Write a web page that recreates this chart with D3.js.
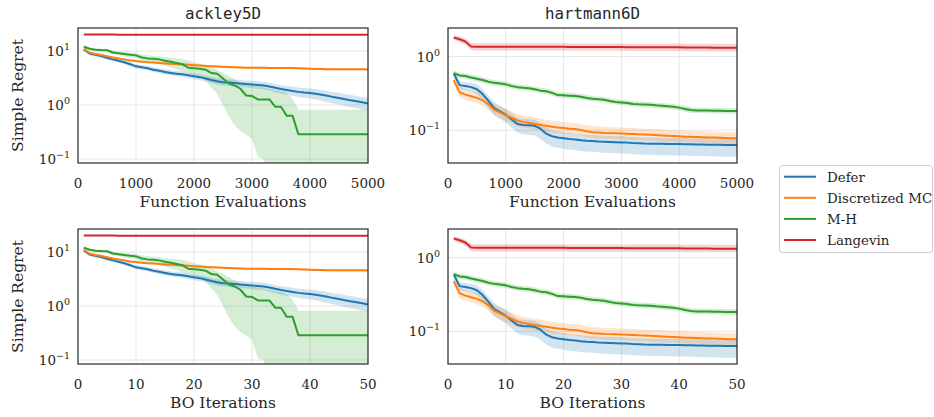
<!DOCTYPE html>
<html>
<head>
<meta charset="utf-8">
<title>Simple Regret</title>
<script src="https://d3js.org/d3.v7.min.js"></script>
<style>
  body { margin: 0; background: #fff; }
  text { fill: #262626; }
  .tick-label { font-family: "DejaVu Serif", serif; font-size: 13.5px; }
  .axis-label { font-family: "DejaVu Serif", serif; font-size: 15.5px; }
  .title { font-family: "DejaVu Sans Mono", monospace; font-size: 15.8px; text-anchor: middle; }
  .legend text { font-family: "DejaVu Serif", serif; font-size: 13.4px; }
</style>
</head>
<body>
<script>
// BO iterations; every iteration uses 100 function evaluations
const iterations = d3.range(1, 51);
const evalsPerIter = 100;
const methods = ["Defer", "Discretized MC", "M-H", "Langevin"];
const colors = ["#1f77b4", "#ff7f0e", "#2ca02c", "#d62728"];
const evalTicks = [0, 1000, 2000, 3000, 4000, 5000];
const iterTicks = [0, 10, 20, 30, 40, 50];

// ackley5D
const ackDeferMean = [10.7,9.0,8.5,8.1,7.5,7.0,6.6,6.2,5.7,5.2,5.0,4.8,4.5,4.3,4.1,3.9,3.8,3.7,3.55,3.4,3.28,3.1,2.9,2.75,2.65,2.6,2.55,2.5,2.45,2.4,2.35,2.3,2.2,2.08,1.98,1.9,1.82,1.75,1.7,1.67,1.62,1.55,1.48,1.4,1.35,1.28,1.22,1.17,1.12,1.07];
const ackDeferHi = [11.5,9.7,9.2,8.8,8.1,7.6,7.2,6.8,6.2,5.7,5.5,5.3,5.0,4.8,4.6,4.4,4.3,4.2,4.0,3.85,3.72,3.52,3.3,3.15,3.05,3.0,2.95,2.9,2.85,2.8,2.75,2.68,2.57,2.42,2.32,2.26,2.18,2.1,2.05,2.02,1.96,1.9,1.82,1.73,1.68,1.6,1.53,1.47,1.41,1.35];
const ackDeferLo = [9.9,8.3,7.8,7.5,6.9,6.5,6.1,5.7,5.2,4.8,4.6,4.4,4.1,3.9,3.7,3.5,3.4,3.3,3.15,3.0,2.9,2.73,2.55,2.4,2.3,2.25,2.2,2.15,2.1,2.05,2.0,1.95,1.86,1.72,1.62,1.55,1.48,1.41,1.36,1.32,1.27,1.2,1.14,1.07,1.02,0.96,0.91,0.87,0.82,0.78];
const ackMCMean = [10.9,9.3,8.8,8.4,8.0,7.6,7.3,7.0,6.7,6.5,6.35,6.2,6.1,6.0,5.9,5.8,5.72,5.65,5.55,5.45,5.38,5.3,5.22,5.15,5.1,5.05,5.0,4.95,4.9,4.9,4.89,4.88,4.87,4.86,4.85,4.84,4.82,4.78,4.74,4.7,4.66,4.63,4.61,4.6,4.59,4.58,4.58,4.57,4.57,4.56];
const ackMCHi = [11.4,9.7,9.2,8.8,8.35,7.95,7.6,7.3,7.0,6.8,6.6,6.45,6.35,6.25,6.15,6.05,5.97,5.9,5.8,5.7,5.62,5.54,5.45,5.38,5.33,5.28,5.23,5.18,5.12,5.12,5.11,5.1,5.09,5.08,5.07,5.06,5.04,5.0,4.96,4.92,4.88,4.85,4.83,4.82,4.81,4.8,4.8,4.79,4.79,4.78];
const ackMCLo = [10.4,8.9,8.4,8.0,7.65,7.25,7.0,6.7,6.4,6.2,6.1,5.95,5.85,5.75,5.65,5.55,5.47,5.4,5.3,5.2,5.14,5.06,4.99,4.92,4.87,4.82,4.77,4.72,4.68,4.68,4.67,4.66,4.65,4.64,4.63,4.62,4.6,4.56,4.52,4.48,4.44,4.41,4.39,4.38,4.37,4.36,4.36,4.35,4.35,4.34];
const ackMHMean = [12.0,11.0,10.6,10.4,10.3,9.4,9.1,8.8,8.5,8.3,7.6,7.3,7.2,7.0,6.6,6.3,6.0,5.7,4.9,4.8,4.7,4.5,3.9,3.8,3.1,2.5,2.3,2.0,1.5,1.47,1.27,1.27,1.27,0.93,0.93,0.63,0.63,0.286,0.286,0.286,0.286,0.286,0.286,0.286,0.286,0.286,0.286,0.286,0.286,0.286];
const ackMHHi = [12.6,11.6,11.2,11.0,10.9,10.1,9.8,9.6,9.4,9.2,8.6,8.3,8.2,8.0,7.7,7.5,7.3,7.2,6.6,6.2,5.8,5.5,5.0,4.4,3.9,3.4,3.0,2.6,2.4,2.3,2.2,2.1,2.0,1.9,1.8,1.65,1.3,0.82,0.82,0.82,0.82,0.82,0.82,0.82,0.82,0.82,0.82,0.82,0.82,0.82];
const ackMHLo = [11.4,10.4,10.0,9.8,9.7,8.7,8.4,8.0,7.6,7.4,6.6,6.3,6.2,5.9,5.4,5.0,4.6,4.2,3.9,3.6,3.3,2.8,2.1,1.6,1.0,0.62,0.42,0.33,0.28,0.24,0.11,0.10,0.001,0.001,0.001,0.001,0.001,0.001,0.001,0.001,0.001,0.001,0.001,0.001,0.001,0.001,0.001,0.001,0.001,0.001];
const ackLangMean = [20.3,20.3,20.2,20.2,20.2,20.2,20.1,20.1,20.1,20.1,20.0,20.0,20.0,20.0,20.0,20.0,20.0,20.0,20.0,20.0,20.0,20.0,20.0,20.0,20.0,20.0,20.0,20.0,20.0,20.0,19.95,19.95,19.95,19.95,19.95,19.95,19.95,19.95,19.95,19.95,19.9,19.9,19.9,19.9,19.9,19.9,19.9,19.9,19.9,19.9];
const ackLangHi = [20.6,20.6,20.5,20.5,20.5,20.5,20.4,20.4,20.4,20.4,20.3,20.3,20.3,20.3,20.3,20.3,20.3,20.3,20.3,20.3,20.3,20.3,20.3,20.3,20.3,20.3,20.3,20.3,20.3,20.3,20.25,20.25,20.25,20.25,20.25,20.25,20.25,20.25,20.25,20.25,20.2,20.2,20.2,20.2,20.2,20.2,20.2,20.2,20.2,20.2];
const ackLangLo = [20.0,20.0,19.9,19.9,19.9,19.9,19.8,19.8,19.8,19.8,19.7,19.7,19.7,19.7,19.7,19.7,19.7,19.7,19.7,19.7,19.7,19.7,19.7,19.7,19.7,19.7,19.7,19.7,19.7,19.7,19.65,19.65,19.65,19.65,19.65,19.65,19.65,19.65,19.65,19.65,19.6,19.6,19.6,19.6,19.6,19.6,19.6,19.6,19.6,19.6];

// hartmann6D
const hartDeferMean = [.59,.41,.40,.385,.36,.31,.25,.20,.18,.163,.14,.122,.118,.117,.115,.105,.09,.083,.080,.078,.076,.075,.073,.072,.0713,.0705,.070,.0695,.069,.0685,.068,.067,.0665,.066,.0658,.0656,.0654,.0652,.065,.065,.0648,.0645,.0643,.064,.0638,.0636,.0634,.0632,.063,.0629];
const hartDeferHi = [.64,.46,.45,.44,.42,.36,.295,.24,.215,.197,.17,.148,.143,.141,.139,.127,.109,.1,.097,.094,.092,.09,.088,.087,.086,.085,.0845,.084,.0835,.083,.082,.081,.0805,.08,.0795,.0793,.079,.0788,.0786,.0786,.0784,.078,.0778,.0774,.0772,.077,.0767,.0765,.0762,.0761];
const hartDeferLo = [.54,.36,.35,.335,.31,.255,.2,.16,.142,.128,.108,.093,.088,.087,.085,.077,.066,.06,.058,.056,.0545,.0537,.0522,.0515,.051,.0502,.0497,.0493,.0489,.0485,.0481,.0474,.047,.0466,.0464,.0462,.046,.0458,.0456,.0455,.0453,.045,.0448,.0446,.0444,.0442,.044,.0438,.0436,.0435];
const hartMCMean = [.48,.33,.305,.29,.275,.255,.225,.19,.175,.16,.148,.136,.13,.126,.122,.118,.115,.112,.109,.107,.105,.104,.101,.097,.094,.093,.092,.0915,.091,.0905,.09,.089,.088,.0875,.087,.086,.085,.084,.0835,.083,.082,.0815,.081,.0805,.08,.0795,.079,.0785,.078,.0777];
const hartMCHi = [.55,.39,.36,.345,.33,.305,.27,.23,.212,.194,.18,.166,.158,.153,.148,.143,.139,.135,.132,.129,.127,.126,.122,.117,.114,.113,.111,.11,.11,.109,.108,.107,.106,.105,.105,.104,.103,.101,.1,.1,.099,.098,.098,.097,.096,.096,.095,.095,.094,.094];
const hartMCLo = [.42,.28,.26,.245,.232,.215,.19,.16,.147,.134,.124,.114,.109,.106,.102,.099,.096,.094,.091,.09,.088,.087,.085,.081,.079,.078,.077,.077,.076,.076,.075,.074,.074,.073,.073,.072,.071,.07,.07,.069,.069,.068,.068,.067,.067,.066,.066,.066,.065,.065];
const hartMHMean = [.595,.555,.545,.52,.50,.48,.455,.44,.43,.42,.40,.385,.377,.372,.36,.345,.338,.322,.30,.298,.295,.292,.285,.275,.268,.264,.26,.25,.242,.238,.234,.228,.225,.224,.222,.218,.215,.212,.208,.203,.195,.188,.186,.185,.185,.184,.184,.183,.183,.182];
const hartMHHi = [.65,.605,.595,.567,.545,.523,.496,.48,.469,.458,.436,.42,.411,.405,.392,.376,.368,.351,.327,.325,.322,.318,.311,.3,.292,.288,.283,.273,.264,.259,.255,.249,.245,.244,.242,.238,.234,.231,.227,.221,.213,.205,.203,.202,.202,.201,.201,.2,.2,.198];
const hartMHLo = [.547,.511,.501,.478,.46,.442,.419,.405,.396,.386,.368,.354,.347,.342,.331,.317,.311,.296,.276,.274,.271,.269,.262,.253,.247,.243,.239,.23,.223,.219,.215,.21,.207,.206,.204,.201,.198,.195,.191,.187,.179,.173,.171,.17,.17,.169,.169,.168,.168,.167];
const hartLangMean = [1.82,1.72,1.6,1.37,1.36,1.36,1.36,1.36,1.36,1.36,1.355,1.355,1.355,1.355,1.355,1.355,1.355,1.355,1.355,1.355,1.35,1.35,1.35,1.35,1.35,1.35,1.35,1.35,1.35,1.35,1.34,1.34,1.34,1.34,1.34,1.34,1.34,1.34,1.34,1.34,1.33,1.33,1.33,1.33,1.33,1.32,1.32,1.32,1.32,1.32];
const hartLangHi = [1.97,1.87,1.76,1.53,1.52,1.52,1.52,1.52,1.52,1.52,1.52,1.52,1.52,1.52,1.52,1.52,1.52,1.52,1.52,1.52,1.51,1.51,1.51,1.51,1.51,1.51,1.51,1.51,1.51,1.51,1.5,1.5,1.5,1.5,1.5,1.5,1.5,1.5,1.5,1.5,1.49,1.49,1.49,1.49,1.49,1.49,1.49,1.49,1.49,1.49];
const hartLangLo = [1.68,1.58,1.45,1.22,1.21,1.21,1.21,1.21,1.21,1.21,1.21,1.21,1.21,1.21,1.21,1.21,1.21,1.21,1.21,1.21,1.2,1.2,1.2,1.2,1.2,1.2,1.2,1.2,1.2,1.2,1.19,1.19,1.19,1.19,1.19,1.19,1.19,1.19,1.19,1.19,1.18,1.18,1.18,1.18,1.18,1.18,1.18,1.18,1.18,1.18];

const series = {
  ackley: [
    { mean: ackDeferMean, lo: ackDeferLo, hi: ackDeferHi },
    { mean: ackMCMean, lo: ackMCLo, hi: ackMCHi },
    { mean: ackMHMean, lo: ackMHLo, hi: ackMHHi },
    { mean: ackLangMean, lo: ackLangLo, hi: ackLangHi }
  ],
  hartmann: [
    { mean: hartDeferMean, lo: hartDeferLo, hi: hartDeferHi },
    { mean: hartMCMean, lo: hartMCLo, hi: hartMCHi },
    { mean: hartMHMean, lo: hartMHLo, hi: hartMHHi },
    { mean: hartLangMean, lo: hartLangLo, hi: hartLangHi }
  ]
};

const svg = d3.select("body").append("svg")
  .attr("width", 934)
  .attr("height", 417);

const cols = [{ left: 78, right: 368 }, { left: 448, right: 737 }];
const rows = [{ top: 28, bottom: 163 }, { top: 229, bottom: 364 }];
const yDomains = {
  ackley: [Math.pow(10, -1.074), Math.pow(10, 1.426)],
  hartmann: [Math.pow(10, -1.444), Math.pow(10, 0.388)]
};
const yTicks = { ackley: [-1, 0, 1], hartmann: [-1, 0] };

const panels = [
  { fn: "ackley", row: 0, col: 0, title: "ackley5D", perIter: evalsPerIter, xmax: 5000, ticks: evalTicks, xlabel: "Function Evaluations" },
  { fn: "hartmann", row: 0, col: 1, title: "hartmann6D", perIter: evalsPerIter, xmax: 5000, ticks: evalTicks, xlabel: "Function Evaluations" },
  { fn: "ackley", row: 1, col: 0, title: null, perIter: 1, xmax: 50, ticks: iterTicks, xlabel: "BO Iterations" },
  { fn: "hartmann", row: 1, col: 1, title: null, perIter: 1, xmax: 50, ticks: iterTicks, xlabel: "BO Iterations" }
];

panels.forEach(function(p, pi) {
  const c = cols[p.col], r = rows[p.row];
  const x = d3.scaleLinear().domain([0, p.xmax]).range([c.left, c.right]);
  const y = d3.scaleLog().domain(yDomains[p.fn]).range([r.bottom, r.top]);
  const g = svg.append("g");

  svg.append("clipPath").attr("id", "clip" + pi)
    .append("rect")
    .attr("x", c.left).attr("y", r.top)
    .attr("width", c.right - c.left).attr("height", r.bottom - r.top);

  // grid
  g.selectAll(".gx").data(p.ticks).enter().append("line")
    .attr("x1", d => x(d)).attr("x2", d => x(d))
    .attr("y1", r.top).attr("y2", r.bottom)
    .attr("stroke", "#e6e6e6").attr("stroke-width", 1);
  g.selectAll(".gy").data(yTicks[p.fn]).enter().append("line")
    .attr("x1", c.left).attr("x2", c.right)
    .attr("y1", d => y(Math.pow(10, d))).attr("y2", d => y(Math.pow(10, d)))
    .attr("stroke", "#e6e6e6").attr("stroke-width", 1);

  const plot = g.append("g").attr("clip-path", "url(#clip" + pi + ")");
  const xs = iterations.map(i => i * p.perIter);

  // bands first, lines above
  series[p.fn].forEach(function(s, k) {
    const area = d3.area()
      .x((d, i) => x(xs[i]))
      .y0((d, i) => y(Math.max(s.lo[i], 1e-4)))
      .y1((d, i) => y(s.hi[i]));
    plot.append("path")
      .attr("d", area(s.mean))
      .attr("fill", colors[k])
      .attr("fill-opacity", 0.2)
      .attr("stroke", "none");
  });
  series[p.fn].forEach(function(s, k) {
    const line = d3.line()
      .x((d, i) => x(xs[i]))
      .y(d => y(d));
    plot.append("path")
      .attr("d", line(s.mean))
      .attr("fill", "none")
      .attr("stroke", colors[k])
      .attr("stroke-width", 2)
      .attr("stroke-linejoin", "round");
  });

  // frame
  g.append("rect")
    .attr("x", c.left).attr("y", r.top)
    .attr("width", c.right - c.left).attr("height", r.bottom - r.top)
    .attr("fill", "none").attr("stroke", "#333").attr("stroke-width", 1.25);

  // x tick labels
  g.selectAll(".xt").data(p.ticks).enter().append("text")
    .attr("class", "tick-label")
    .attr("x", d => x(d)).attr("y", r.bottom + 25)
    .attr("text-anchor", "middle")
    .text(d => d);

  // y tick labels 10^k
  yTicks[p.fn].forEach(function(k) {
    const t = g.append("text")
      .attr("class", "tick-label")
      .attr("x", c.left - 8)
      .attr("y", y(Math.pow(10, k)) + 5)
      .attr("text-anchor", "end");
    t.append("tspan").text("10");
    t.append("tspan").attr("dy", -6).style("font-size", "9.5px")
      .text(k < 0 ? "\u2212" + (-k) : String(k));
  });

  g.append("text")
    .attr("class", "axis-label")
    .attr("x", (c.left + c.right) / 2).attr("y", r.bottom + 44)
    .attr("text-anchor", "middle")
    .text(p.xlabel);

  if (p.col === 0) {
    g.append("text")
      .attr("class", "axis-label")
      .attr("transform", "translate(23," + ((r.top + r.bottom) / 2) + ") rotate(-90)")
      .attr("text-anchor", "middle")
      .text("Simple Regret");
  }

  if (p.title) {
    g.append("text")
      .attr("class", "title")
      .attr("x", (c.left + c.right) / 2).attr("y", 19)
      .text(p.title);
  }
});

// legend
const legend = svg.append("g").attr("class", "legend");
legend.append("rect")
  .attr("x", 779.5).attr("y", 165.5)
  .attr("width", 153).attr("height", 87)
  .attr("rx", 3)
  .attr("fill", "#fff").attr("fill-opacity", 0.8)
  .attr("stroke", "#cccccc").attr("stroke-width", 1);
methods.forEach(function(m, k) {
  const ly = 176.7 + k * 21.1;
  legend.append("line")
    .attr("x1", 784).attr("x2", 816)
    .attr("y1", ly).attr("y2", ly)
    .attr("stroke", colors[k]).attr("stroke-width", 2);
  legend.append("text")
    .attr("x", 827).attr("y", ly + 4.8)
    .text(m);
});
</script>
</body>
</html>
